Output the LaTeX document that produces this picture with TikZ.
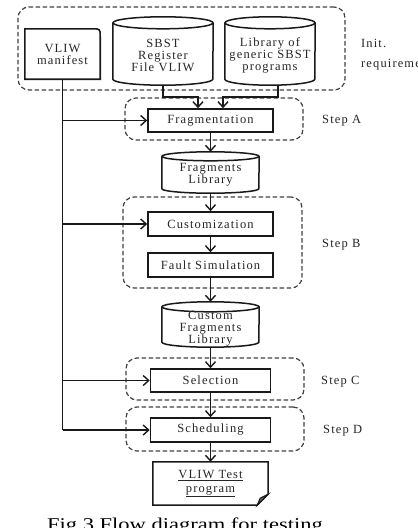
\documentclass[tikz,border=0pt]{standalone}
\usepackage{fontspec}
\setmainfont{Liberation Serif}[LetterSpace=9]
\newfontfamily\capfont{Liberation Serif}[FakeStretch=1.25]
\usetikzlibrary{arrows.meta}
\newcommand\drawcyl[3]{%
  \draw[solidline] ([yshift=-#3]#1.north west) -- ([yshift=#3]#1.south west)
     arc[start angle=180,end angle=360,x radius=#2,y radius=#3] -- ([yshift=-#3]#1.north east);
  \draw[solidline] ([yshift=-#3]#1.north) ellipse[x radius=#2,y radius=#3];}
\begin{document}
\begin{tikzpicture}[x=1pt,y=-1pt,
  lbl/.style={font=\fontsize{12.5}{12}\selectfont, text=black!85, inner sep=0pt, align=center},
  solidbox/.style={draw=black!90, line width=1.6pt, inner sep=0pt, lbl},
  plainbox/.style={draw=none, inner sep=0pt, lbl},
  dashbox/.style={draw=black!75, line width=1.2pt, dash pattern=on 4.5pt off 2.5pt, rounded corners=11pt, inner sep=0pt},
  solidline/.style={draw=black!90, line width=1.5pt},
  arr/.style={draw=black!90, line width=1.7pt, -{Straight Barb[length=5.5pt,width=10pt,line width=1.4pt]}},
]
\useasboundingbox (0,0) rectangle (418,528);
% dashed groups
\node[dashbox, minimum width=327pt, minimum height=83pt] (gInit) at (181.5,48.5) {};
\node[dashbox, minimum width=178pt, minimum height=42pt] (gA) at (214,119) {};
\node[dashbox, minimum width=179pt, minimum height=91pt] (gB) at (212.5,242.5) {};
\node[dashbox, minimum width=178pt, minimum height=42pt] (gC) at (215,379) {};
\node[dashbox, minimum width=178pt, minimum height=44pt] (gD) at (215,429) {};
% initial requirements
\node[plainbox, minimum width=75pt, minimum height=50pt] (vliw) at (62.5,54) {VLIW\\manifest};
\draw[solidline, line width=1.6pt] (vliw.south west) -- (vliw.north west) -- ([xshift=-8pt]vliw.north east)
   .. controls (vliw.north east) .. ([yshift=-8pt]vliw.north east) -- (vliw.south east) -- cycle;
\node[plainbox, minimum width=100pt, minimum height=68pt] (sbst) at (163,51) {};
\drawcyl{sbst}{50pt}{6pt}
\node[lbl] (sbstT) at ([yshift=-4pt]sbst.center) {SBST\\Register\\File VLIW};
\node[plainbox, minimum width=90pt, minimum height=68pt] (lib) at (270,51) {};
\drawcyl{lib}{45pt}{6pt}
\node[lbl] (libT) at ([yshift=-4pt]lib.center) {Library of\\generic SBST\\programs};
\node[lbl, anchor=base west] (init1) at (361,47) {Init.};
\node[lbl, anchor=base west] (init2) at (361,67) {requirements};
% main flow
\node[solidbox, minimum width=125pt, minimum height=23pt] (frag) at (210.5,120.5) {Fragmentation};
\node[plainbox, minimum width=97pt, minimum height=41pt] (fraglib) at (210.5,172.5) {};
\drawcyl{fraglib}{48.5pt}{4.5pt}
\node[lbl] (fraglibT) at ([yshift=-2pt]fraglib.center) {Fragments\\Library};
\node[solidbox, minimum width=125pt, minimum height=24pt] (cust) at (210.5,224) {Customization};
\node[solidbox, minimum width=125pt, minimum height=24pt] (fault) at (210.5,265) {Fault Simulation};
\node[plainbox, minimum width=97pt, minimum height=45pt] (cfl) at (210.5,324.5) {};
\drawcyl{cfl}{48.5pt}{5pt}
\node[lbl] (cflT) at ([yshift=-4.5pt]cfl.center) {Custom\\Fragments\\Library};
\node[solidbox, minimum width=120pt, minimum height=23pt] (sel) at (210.5,380.5) {Selection};
\node[solidbox, minimum width=120pt, minimum height=24pt] (sched) at (210.5,430) {Scheduling};
\node[plainbox, minimum width=115pt, minimum height=43pt] (doc) at (210.5,483.5) {\underline{VLIW Test}\\[2pt]\underline{program}};
\draw[solidline] (doc.north west) -- (doc.north east) -- ([yshift=11pt]doc.south east)
   -- ([xshift=-11pt]doc.south east) -- (doc.south west) -- cycle;
\draw[solidline, line width=1.1pt, fill=black!60] ([xshift=-11pt]doc.south east) -- ([xshift=-8pt,yshift=7pt]doc.south east) -- ([yshift=11pt]doc.south east) -- cycle;
% step labels
\node[lbl, anchor=west] (sA) at (322,121) {Step A};
\node[lbl, anchor=west] (sB) at (322,245) {Step B};
\node[lbl, anchor=west] (sC) at (321,382) {Step C};
\node[lbl, anchor=west] (sD) at (323,431) {Step D};
% connectors
\coordinate (jA) at (198,97);
\coordinate (jB) at (223,97);
\draw[arr] (sbst.south) |- (jA) -- (jA |- frag.north);
\draw[arr] ([xshift=8pt]lib.south) |- (jB) -- (jB |- frag.north);
\draw[arr] (frag.south) -- (fraglib.north);
\draw[arr] (fraglib.south) -- (cust.north);
\draw[arr] (cust.south) -- (fault.north);
\draw[arr] (fault.south) -- (cfl.north);
\draw[arr] (cfl.south) -- (sel.north);
\draw[arr] (sel.south) -- (sched.north);
\draw[arr] (sched.south) -- (doc.north);
\draw[solidline, line width=1.9pt] (vliw.south) -- (vliw.south |- sched.west);
\draw[arr] (vliw.south |- frag.west) -- (frag.west);
\draw[arr] (vliw.south |- cust.west) -- (cust.west);
\draw[arr] (vliw.south |- sel.west) -- (sel.west);
\draw[arr] (vliw.south |- sched.west) -- (sched.west);
% caption
\node[font=\capfont\fontsize{18}{20}\selectfont, anchor=base west, inner sep=0pt, text=black] (cap) at (47,530) {Fig.3 Flow diagram for testing};
\end{tikzpicture}
\end{document}
